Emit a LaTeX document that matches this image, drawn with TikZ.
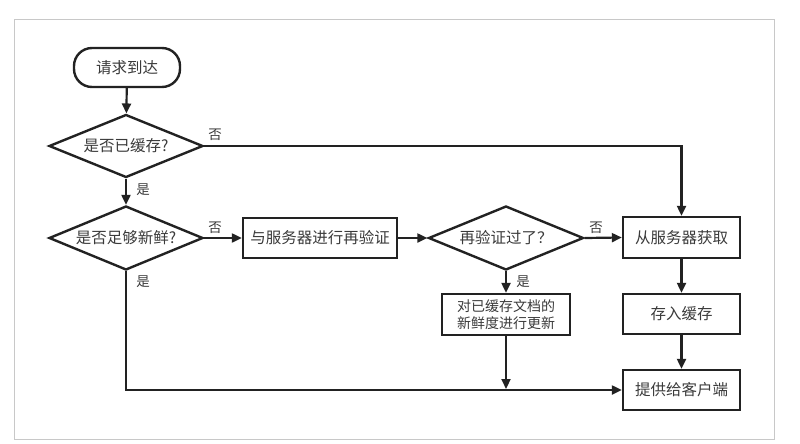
\documentclass[tikz,border=0pt]{standalone}
\usepackage{fontspec}
\setmainfont{Noto Sans CJK SC}
\usetikzlibrary{arrows.meta,shapes.geometric}
\definecolor{ink}{HTML}{222222}
\definecolor{txt}{HTML}{3A3A3A}
\definecolor{frame}{HTML}{C8C8C8}
\begin{document}
\begin{tikzpicture}[x=1pt,y=-1pt,
  every node/.style={text=txt},
  boxnode/.style={draw=ink,line width=2.4pt,rectangle,inner sep=0pt,font=\fontsize{15.5}{17}\selectfont,align=center},
  decision/.style={draw=ink,line width=2.4pt,diamond,shape aspect=2.4,inner sep=0pt,minimum width=154pt,minimum height=63pt,font=\fontsize{15.5}{17}\selectfont},
  lbl/.style={font=\fontsize{13.5}{15}\selectfont,inner sep=0pt},
  arr/.style={draw=ink,line width=2.2pt,-{Triangle[length=10pt,width=9pt]}},
  ln/.style={draw=ink,line width=2.2pt}]
\useasboundingbox (0,0) rectangle (800,444);
\draw[frame,line width=1pt] (14,20) rectangle (774,439);
\node[boxnode,rounded corners=18pt,minimum width=106pt,minimum height=39pt] (start) at (127,67.5) {请求到达};
\node[decision] (d1) at (126,146) {是否已缓存?};
\node[decision,minimum height=64pt] (d2) at (126,238) {是否足够新鲜?};
\node[boxnode,minimum width=154pt,minimum height=40pt] (reval) at (320,238) {与服务器进行再验证};
\node[decision,minimum width=155pt,minimum height=64pt] (d3) at (506,238) {再验证过了？};
\node[boxnode,minimum width=117pt,minimum height=41pt] (fetch) at (681.5,237.5) {从服务器获取};
\node[boxnode,minimum width=117pt,minimum height=40pt] (store) at (681.5,314) {存入缓存};
\node[boxnode,minimum width=117pt,minimum height=40pt] (serve) at (681.5,390) {提供给客户端};
\node[boxnode,minimum width=128pt,minimum height=41pt,font=\fontsize{14}{16.5}\selectfont] (update) at (506,314.5) {对已缓存文档的\\新鲜度进行更新};
\coordinate (j) at (506,389);
\node[lbl] (n1) at (215,135) {否};
\node[lbl] (y1) at (143,190) {是};
\node[lbl] (n2) at (215,228) {否};
\node[lbl] (y2) at (143,282) {是};
\node[lbl] (n3) at (596,228) {否};
\node[lbl] (y3) at (523,282) {是};
\draw[arr] (start) -- (d1);
\draw[arr] (d1.east) -| (fetch.north);
\draw[arr] (d1.south) -- (d2.north);
\draw[arr] (d2.east) -- (reval.west);
\draw[arr] (reval.east) -- (d3.west);
\draw[arr] (d3.east) -- (fetch.west);
\draw[arr] (d3.south) -- (update.north);
\draw[arr] (update.south) -- (j);
\draw[arr] (d2.south) |- (serve.west);
\draw[arr] (fetch) -- (store);
\draw[arr] (store) -- (serve);
\end{tikzpicture}
\end{document}
